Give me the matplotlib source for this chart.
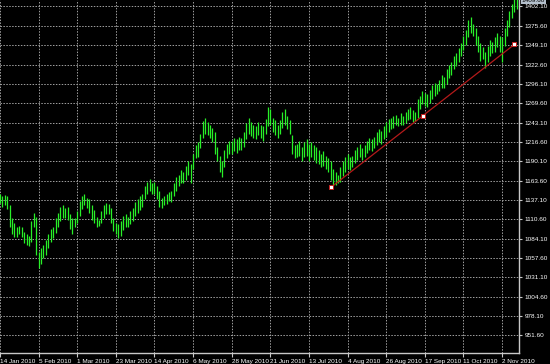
import numpy as np
import matplotlib
matplotlib.use('Agg')
import matplotlib.pyplot as plt

# daily bars (price units)
highs = [1146, 1143, 1144, 1142, 1130, 1112, 1105, 1100, 1102, 1100, 1093, 1090, 1088, 1108, 1120, 1114,
         1066, 1072, 1076, 1082, 1090, 1098, 1100, 1112, 1120, 1127, 1130, 1126, 1128, 1118, 1112, 1112,
         1122, 1136, 1142, 1145, 1140, 1138, 1130, 1124, 1114, 1110, 1122, 1130, 1133, 1132, 1126, 1112,
         1106, 1104, 1108, 1115, 1118, 1114, 1122, 1126, 1135, 1138, 1142, 1146, 1156, 1162, 1166, 1160,
         1162, 1156, 1150, 1140, 1142, 1146, 1148, 1150, 1160, 1168, 1172, 1178, 1176, 1184, 1190, 1186,
         1200, 1212, 1216, 1228, 1245, 1249, 1244, 1240, 1236, 1230, 1210, 1198, 1190, 1205, 1214, 1218,
         1218, 1222, 1220, 1224, 1222, 1230, 1242, 1250, 1244, 1240, 1238, 1244, 1240, 1238, 1248, 1264,
         1262, 1250, 1246, 1240, 1246, 1258, 1262, 1252, 1246, 1226, 1212, 1214, 1218, 1210, 1216, 1220,
         1214, 1216, 1212, 1210, 1206, 1200, 1204, 1198, 1194, 1190, 1180, 1176, 1172, 1182, 1190, 1196,
         1200, 1196, 1198, 1206, 1210, 1214, 1208, 1212, 1218, 1222, 1220, 1224, 1230, 1234, 1232, 1238,
         1244, 1248, 1250, 1252, 1254, 1250, 1256, 1252, 1258, 1262, 1264, 1260, 1258, 1275, 1280, 1286,
         1284, 1282, 1288, 1294, 1298, 1296, 1302, 1308, 1306, 1316, 1322, 1326, 1334, 1338, 1345, 1352,
         1362, 1370, 1384, 1388, 1378, 1372, 1362, 1352, 1346, 1340, 1348, 1356, 1354, 1360, 1366, 1362,
         1360, 1372, 1384, 1396, 1405, 1412, 1420]
lows = [1133, 1128, 1130, 1125, 1100, 1090, 1086, 1087, 1090, 1086, 1078, 1075, 1074, 1080, 1100, 1062,
        1044, 1050, 1058, 1062, 1072, 1080, 1085, 1092, 1100, 1108, 1113, 1112, 1110, 1098, 1090, 1100,
        1106, 1115, 1125, 1130, 1126, 1120, 1110, 1106, 1100, 1102, 1106, 1112, 1118, 1118, 1106, 1095,
        1090, 1085, 1088, 1096, 1100, 1100, 1104, 1108, 1115, 1120, 1124, 1128, 1138, 1145, 1150, 1146,
        1145, 1138, 1128, 1126, 1130, 1132, 1136, 1134, 1142, 1150, 1156, 1160, 1160, 1164, 1172, 1160,
        1180, 1194, 1196, 1208, 1222, 1228, 1226, 1222, 1216, 1200, 1190, 1176, 1168, 1182, 1195, 1200,
        1200, 1204, 1202, 1206, 1205, 1210, 1220, 1228, 1225, 1222, 1220, 1226, 1222, 1218, 1228, 1238,
        1240, 1230, 1226, 1222, 1228, 1236, 1240, 1234, 1228, 1200, 1195, 1196, 1198, 1190, 1196, 1198,
        1190, 1196, 1192, 1188, 1186, 1182, 1184, 1180, 1176, 1165, 1157, 1158, 1160, 1162, 1170, 1176,
        1180, 1178, 1182, 1188, 1192, 1196, 1192, 1196, 1202, 1206, 1204, 1208, 1212, 1216, 1214, 1220,
        1224, 1230, 1234, 1236, 1240, 1238, 1240, 1240, 1242, 1246, 1248, 1244, 1245, 1250, 1262, 1268,
        1266, 1264, 1270, 1276, 1280, 1282, 1286, 1290, 1290, 1296, 1304, 1308, 1316, 1320, 1326, 1334,
        1342, 1350, 1360, 1366, 1362, 1350, 1340, 1328, 1330, 1318, 1326, 1334, 1338, 1340, 1346, 1340,
        1326, 1348, 1362, 1374, 1386, 1394, 1398]

price_ticks = [951.60, 978.10, 1004.60, 1031.10, 1057.60, 1084.10, 1110.60, 1137.10, 1163.60,
               1190.10, 1216.60, 1243.10, 1269.60, 1296.10, 1322.60, 1349.10, 1375.60, 1402.10]
date_labels = ['14 Jan 2010', '5 Feb 2010', '1 Mar 2010', '23 Mar 2010', '14 Apr 2010',
               '6 May 2010', '28 May 2010', '21 Jun 2010', '13 Jul 2010', '4 Aug 2010',
               '26 Aug 2010', '17 Sep 2010', '11 Oct 2010', '2 Nov 2010']
bars_per_label = 16

# trend line (start, middle, end)
trend_bar = [137.3, 175.2, 213.1]
trend_price = [1155.0, 1252.6, 1350.2]
last_price = '1409.60'

fg = '#c8c8c8'
font = 'Liberation Sans'

fig = plt.figure(figsize=(5.5, 3.64), dpi=100, facecolor='black')
ax = fig.add_axes([0, 11 / 364, 519 / 550, 353 / 364])
ax.set_facecolor('black')

idx = np.arange(len(highs))
ax.vlines(idx, lows, highs, colors='#28f028', linewidth=0.9, zorder=3)

ax.plot(trend_bar, trend_price, color='#b41a1a', linewidth=0.9, zorder=4)
ax.plot(trend_bar, trend_price, linestyle='none', marker='s', markersize=2.8,
        markerfacecolor='white', markeredgecolor='#c81e1e', markeredgewidth=0.7, zorder=5)

ax.set_xlim(0.58, 215.0)
ax.set_ylim(927.6, 1411.0)

# axes look of the terminal
for s in ['top', 'left']:
    ax.spines[s].set_visible(False)
for s in ['right', 'bottom']:
    ax.spines[s].set_color(fg)
    ax.spines[s].set_linewidth(1.0)

ax.yaxis.tick_right()
ax.set_yticks(price_ticks)
ax.set_yticklabels(['%.2f' % p for p in price_ticks], fontsize=4.6, family=font, color='white')
ax.set_xticks(np.arange(len(date_labels)) * bars_per_label)
ax.set_xticklabels(date_labels, fontsize=4.6, family=font, color='white', ha='left')
ax.tick_params(axis='y', colors=fg, labelcolor='white', length=2.5, width=0.8, pad=1.5)
ax.tick_params(axis='x', colors=fg, labelcolor='white', length=3, width=0.8, pad=1.5)

ax.grid(True, color='#a0a0a0', linestyle=(0, (1.5, 1.5)), linewidth=0.7, zorder=1)
ax.set_axisbelow(True)

# current price marker at the top of the price scale (cut by the frame, as in the terminal)
ax.text(1.005, 1410.3, last_price, transform=ax.get_yaxis_transform(), fontsize=4.6,
        family=font, color='black', va='center', ha='left', zorder=0,
        bbox=dict(boxstyle='square,pad=0.12', facecolor='#b4c0cc', edgecolor='none'))

fig.savefig('out.png', dpi=100, facecolor='black')
